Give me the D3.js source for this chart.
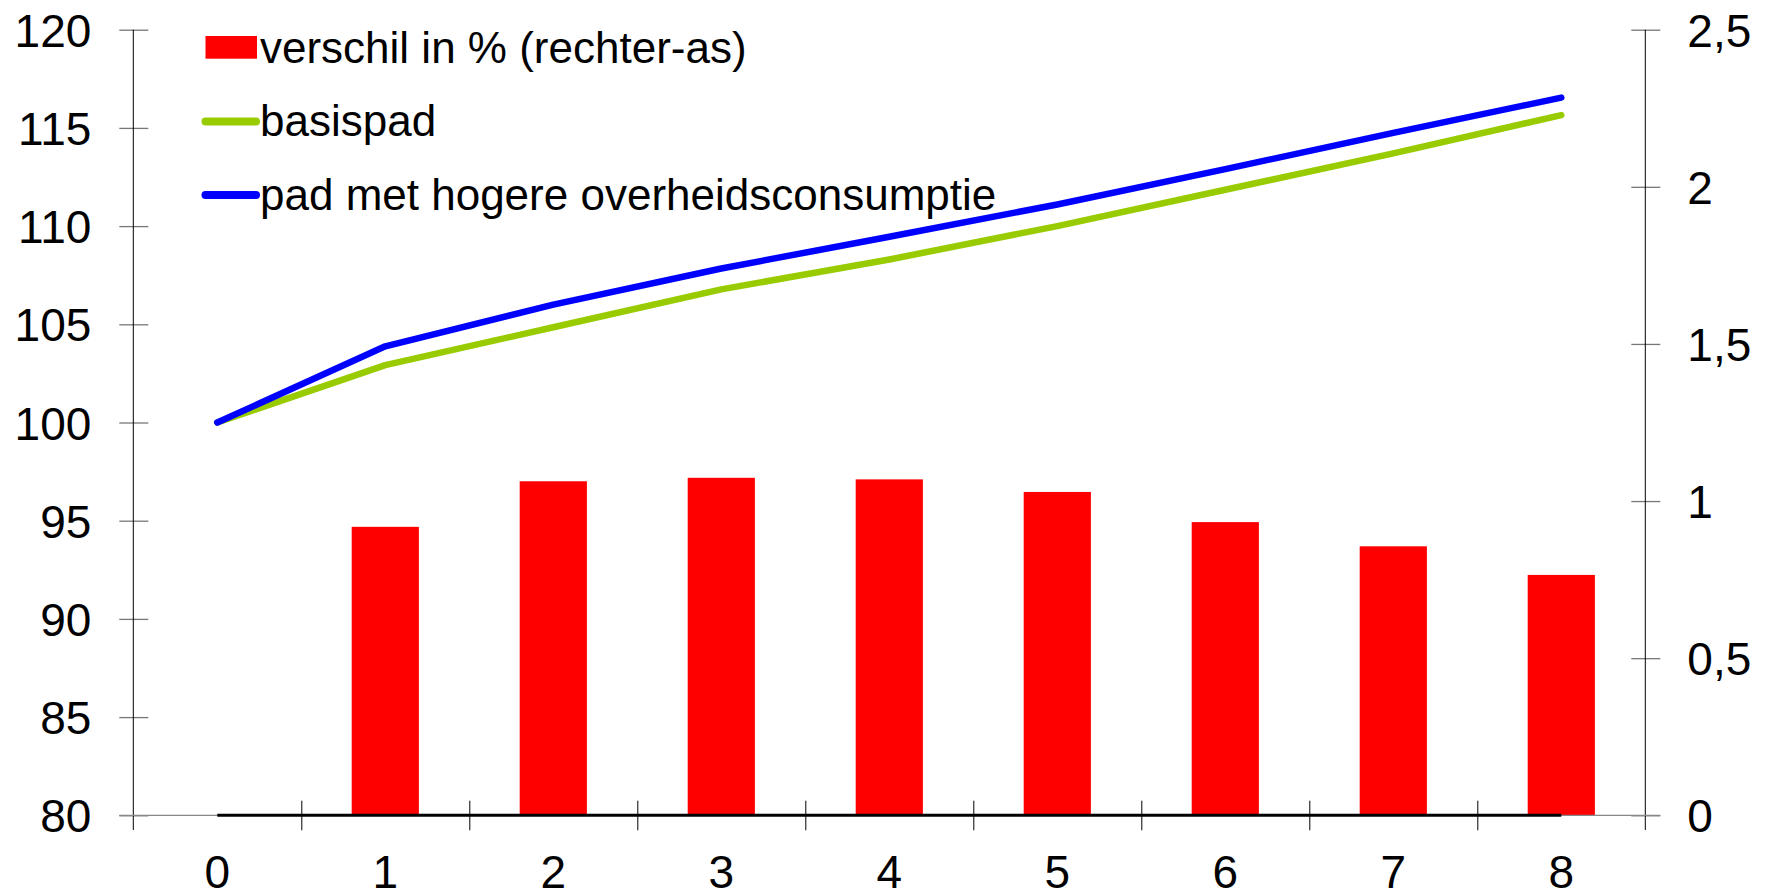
<!DOCTYPE html>
<html>
<head>
<meta charset="utf-8">
<script src="https://cdn.jsdelivr.net/npm/d3@7.9.0/dist/d3.min.js"></script>
<style>
  html, body { margin: 0; padding: 0; background: #fff; }
  svg { display: block; font-family: 'Liberation Sans', Arial, sans-serif; }
</style>
</head>
<body>
<svg id="chart" width="1769" height="893"></svg>
<script>
// data
const years = [0, 1, 2, 3, 4, 5, 6, 7, 8];
const basispad = [100, 102.92, 104.85, 106.78, 108.3, 110.0, 111.85, 113.7, 115.65];
const hogerPad = [100, 103.88, 106.0, 107.84, 109.46, 111.1, 112.9, 114.75, 116.54];
const verschil = [0, 0.918, 1.063, 1.074, 1.069, 1.029, 0.933, 0.856, 0.765];
const baseline = [0, 0, 0, 0, 0, 0, 0, 0, 0];

const leftTicks = [80, 85, 90, 95, 100, 105, 110, 115, 120];
const rightTicks = [0, 0.5, 1, 1.5, 2, 2.5];

const legendItems = [
  { label: 'verschil in % (rechter-as)', type: 'bar', color: '#ff0000' },
  { label: 'basispad', type: 'line', color: '#99cc00' },
  { label: 'pad met hogere overheidsconsumptie', type: 'line', color: '#0000ff' },
];

const svg = d3.select('#chart');

const plotLeft = 133.3, plotRight = 1645.3, plotTop = 29.7, plotBottom = 815.3;

const x = d3.scaleBand().domain(years).range([plotLeft, plotRight]).padding(0);
const xEdge = d3.scaleLinear().domain([0, years.length]).range([plotLeft, plotRight]);
const yL = d3.scaleLinear().domain([80, 120]).range([plotBottom, plotTop]);
const yR = d3.scaleLinear().domain([0, 2.5]).range([plotBottom, plotTop]);
const cx = d => x(d) + x.bandwidth() / 2;

// bars (right axis)
const barW = x.bandwidth() * 0.4;
svg.append('g')
  .selectAll('rect')
  .data(years)
  .join('rect')
  .attr('x', (d) => cx(d) - barW / 2)
  .attr('width', barW)
  .attr('y', (d, i) => yR(verschil[i]))
  .attr('height', (d, i) => yR(0) - yR(verschil[i]))
  .attr('fill', '#ff0000');

// left axis
const gL = svg.append('g')
  .attr('transform', `translate(${plotLeft},0)`)
  .call(d3.axisLeft(yL).tickValues(leftTicks).tickSizeOuter(0).tickSizeInner(14));
gL.select('.domain').remove();
gL.selectAll('.tick line').attr('x1', 15).attr('x2', -14).attr('stroke', '#777').attr('stroke-width', 1.3);
gL.selectAll('.tick text')
  .attr('x', -42).attr('dy', '0.36em')
  .attr('font-size', 46).attr('font-family', 'Liberation Sans, Arial, sans-serif').attr('fill', '#000');
gL.append('line').attr('y1', plotTop).attr('y2', 830).attr('stroke', '#000').attr('stroke-width', 1);

// right axis
const fmtComma = d => String(d).replace('.', ',');
const gR = svg.append('g')
  .attr('transform', `translate(${plotRight},0)`)
  .call(d3.axisRight(yR).tickValues(rightTicks).tickFormat(fmtComma).tickSizeOuter(0).tickSizeInner(15));
gR.select('.domain').remove();
gR.selectAll('.tick line').attr('x1', -14).attr('x2', 15).attr('stroke', '#777').attr('stroke-width', 1.3);
gR.selectAll('.tick text')
  .attr('x', 42).attr('dy', '0.36em')
  .attr('font-size', 46).attr('font-family', 'Liberation Sans, Arial, sans-serif').attr('fill', '#000');
gR.append('line').attr('y1', plotTop).attr('y2', 830).attr('stroke', '#000').attr('stroke-width', 1);

// x axis line (thin grey) and category boundary ticks
svg.append('line')
  .attr('x1', plotLeft - 14).attr('x2', plotRight + 15)
  .attr('y1', plotBottom).attr('y2', plotBottom)
  .attr('stroke', '#888').attr('stroke-width', 1.3);

const gXt = svg.append('g')
  .attr('transform', `translate(0,${plotBottom})`)
  .call(d3.axisBottom(xEdge).tickValues(d3.range(1, years.length)).tickFormat('').tickSizeOuter(0).tickSizeInner(15));
gXt.select('.domain').remove();
gXt.selectAll('.tick line').attr('y1', -14.6).attr('stroke', '#000').attr('stroke-width', 1);

const gX = svg.append('g')
  .attr('transform', `translate(0,${plotBottom})`)
  .call(d3.axisBottom(x).tickSize(0));
gX.select('.domain').remove();
gX.selectAll('.tick text')
  .attr('y', 73).attr('dy', 0)
  .attr('font-size', 46).attr('font-family', 'Liberation Sans, Arial, sans-serif').attr('fill', '#000');

// thick baseline series
svg.append('path')
  .datum(baseline)
  .attr('d', d3.line().x((d, i) => cx(years[i])).y(d => yR(d)))
  .attr('fill', 'none')
  .attr('stroke', '#000')
  .attr('stroke-width', 3);

// lines (left axis)
const line = d3.line().x((d, i) => cx(years[i])).y(d => yL(d));
[[basispad, '#99cc00'], [hogerPad, '#0000ff']].forEach(([vals, color]) => {
  svg.append('path')
    .datum(vals)
    .attr('d', line)
    .attr('fill', 'none')
    .attr('stroke', color)
    .attr('stroke-width', 6.5)
    .attr('stroke-linecap', 'round')
    .attr('stroke-linejoin', 'round');
});

// legend
const leg = svg.append('g');
const rowY = [62.7, 136, 209.5];
legendItems.forEach((item, i) => {
  const g = leg.append('g').attr('transform', `translate(0,${rowY[i]})`);
  if (item.type === 'bar') {
    g.append('rect').attr('x', 205.5).attr('y', -26.7).attr('width', 51.5).attr('height', 22.7).attr('fill', item.color);
  } else {
    g.append('line').attr('x1', 205.5).attr('x2', 256).attr('y1', -14.4).attr('y2', -14.4)
      .attr('stroke', item.color).attr('stroke-width', 8).attr('stroke-linecap', 'round');
  }
  g.append('text')
    .attr('x', 260)
    .attr('font-size', 44)
    .attr('fill', '#000')
    .text(item.label);
});
</script>
</body>
</html>
